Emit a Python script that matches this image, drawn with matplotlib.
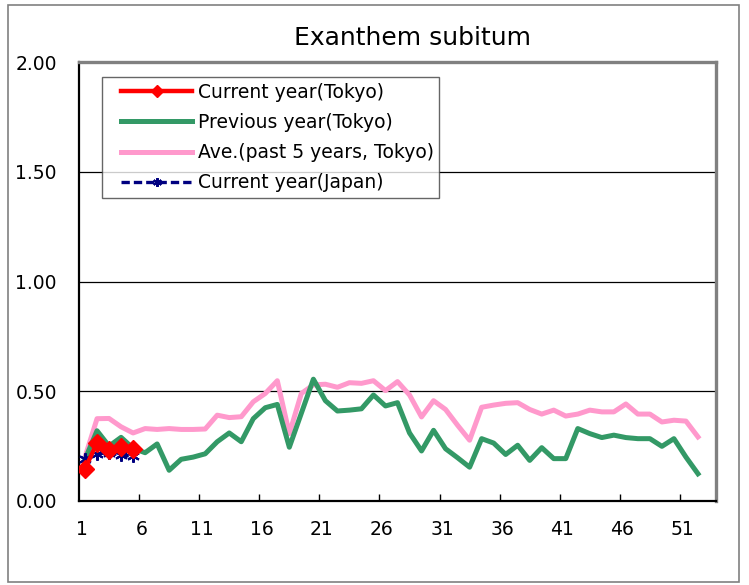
import matplotlib.pyplot as plt
from matplotlib.patches import Rectangle
from matplotlib.lines import Line2D
from matplotlib.legend_handler import HandlerLine2D
from matplotlib.transforms import ScaledTranslation

# weekly values (per sentinel)
weeks = list(range(1, 54))
current_tokyo = [0.147, 0.265, 0.231, 0.245, 0.238]
current_japan = [0.19, 0.215, 0.22, 0.208, 0.205]
previous_tokyo = [0.19, 0.32, 0.25, 0.29, 0.24, 0.22, 0.26, 0.14, 0.19, 0.20,
                  0.215, 0.27, 0.31, 0.27, 0.375, 0.425, 0.44, 0.245, 0.40, 0.555,
                  0.457, 0.41, 0.414, 0.42, 0.483, 0.433, 0.448, 0.31, 0.228, 0.322,
                  0.238, 0.197, 0.154, 0.284, 0.264, 0.212, 0.254, 0.185, 0.243, 0.193,
                  0.193, 0.33, 0.307, 0.289, 0.30, 0.289, 0.284, 0.284, 0.249, 0.284,
                  0.20, 0.124]
ave_5years = [0.20, 0.375, 0.376, 0.338, 0.31, 0.33, 0.326, 0.33, 0.326, 0.326,
              0.328, 0.391, 0.38, 0.384, 0.452, 0.49, 0.548, 0.307, 0.49, 0.529,
              0.532, 0.518, 0.539, 0.536, 0.548, 0.503, 0.544, 0.483, 0.383, 0.457,
              0.417, 0.345, 0.277, 0.427, 0.437, 0.445, 0.448, 0.417, 0.396, 0.414,
              0.387, 0.396, 0.414, 0.406, 0.406, 0.442, 0.396, 0.396, 0.36, 0.368,
              0.364, 0.292]
tick_weeks = [1, 6, 11, 16, 21, 26, 31, 36, 41, 46, 51]

fig = plt.figure(figsize=(7.49, 5.85), dpi=100)
W, H = 749, 585
ax = fig.add_axes([79 / W, (H - 501) / H, 637 / W, 439 / H])

# outer chart frame
fig.patches.append(Rectangle((8 / W, 3 / H), 731 / W, 577 / H, transform=fig.transFigure,
                             fill=False, edgecolor='#808080', linewidth=1.2))

ax.plot(weeks[:len(ave_5years)], ave_5years, color='#FF99CC', linewidth=3.6,
        label='Ave.(past 5 years, Tokyo)', zorder=2)
ax.plot(weeks[:len(previous_tokyo)], previous_tokyo, color='#339966', linewidth=3.6,
        label='Previous year(Tokyo)', zorder=3)
ax.plot(weeks[:len(current_japan)], current_japan, color='#000080', linewidth=2.4,
        linestyle=(0, (2.5, 1.2)), marker=(6, 2, 0), markersize=9, markeredgewidth=1.5,
        label='Current year(Japan)', zorder=4)
ax.plot(weeks[:len(current_tokyo)], current_tokyo, color='#FF0000', linewidth=3.2,
        marker='D', markersize=9, label='Current year(Tokyo)', zorder=5)

ax.set_yticks([0, 0.5, 1.0, 1.5, 2.0])
ax.set_yticklabels(['0.00', '0.50', '1.00', '1.50', '2.00'], fontsize=13.5)
ax.set_xticks(tick_weeks)
ax.set_xticklabels([str(w) for w in tick_weeks], fontsize=13.5)
ax.set_xticks([w + 4.5 for w in tick_weeks if w + 4.5 < 53], minor=True)
ax.set_xlim(0.5, 53.5)
ax.set_ylim(0, 2.0)
ax.tick_params(axis='x', which='major', length=0, pad=14)
ax.tick_params(axis='x', which='minor', direction='in', length=5, width=1, color='black')
ax.tick_params(axis='y', length=0, pad=16)
# category labels sit a little left of the category centre
shift = ScaledTranslation(-3.5 / 100, 0, fig.dpi_scale_trans)
for lbl in ax.get_xticklabels():
    lbl.set_transform(lbl.get_transform() + shift)
for y in [0.5, 1.0, 1.5]:
    ax.axhline(y, color='black', linewidth=0.9, zorder=1)

ax.spines['left'].set_color('black')
ax.spines['bottom'].set_color('black')
ax.spines['left'].set_linewidth(1.6)
ax.spines['bottom'].set_linewidth(1.6)
ax.spines['top'].set_color('#808080')
ax.spines['right'].set_color('#808080')
ax.spines['top'].set_linewidth(2.4)
ax.spines['right'].set_linewidth(2.4)

handles, labels = ax.get_legend_handles_labels()
order = [3, 1, 0, 2]
leg = ax.legend([handles[i] for i in order], [labels[i] for i in order],
                loc='upper left', bbox_to_anchor=((102 - 79) / 637, (501 - 77) / 439),
                borderaxespad=0, fontsize=13.5, frameon=True, fancybox=False,
                handlelength=4.5, handletextpad=0.3, labelspacing=0.6,
                borderpad=0.3, markerscale=0.7,
                handler_map={Line2D: HandlerLine2D(xpad=0.72)})
leg.get_frame().set_edgecolor('#404040')
leg.get_frame().set_linewidth(1.0)

fig.text(412 / W, 1 - 38 / H, 'Exanthem subitum', fontsize=18, ha='center', va='center')

plt.savefig('out.png', dpi=100)
